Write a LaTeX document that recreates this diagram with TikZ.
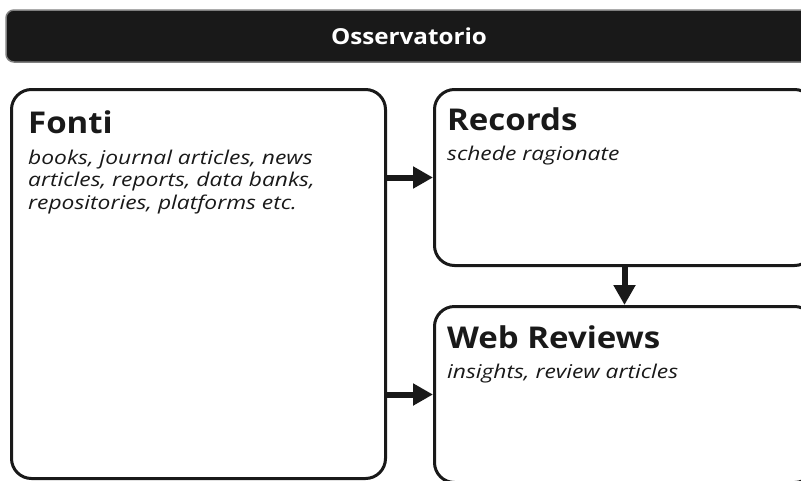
\documentclass[tikz,border=0pt]{standalone}
\usepackage{fontspec}
\setmainfont{Open Sans}
\newfontfamily\titlefont[FakeStretch=1.1]{Open Sans}
\newfontfamily\subfont[FakeStretch=1.2]{Open Sans}
\usetikzlibrary{arrows.meta}
\begin{document}
\begin{tikzpicture}[x=1pt, y=-1pt,
    box/.style={draw=black!90, line width=3pt, rounded corners=20pt, anchor=north west, inner sep=0pt},
    title/.style={anchor=base west, inner sep=0pt, font=\titlefont\fontsize{30}{36}\selectfont\bfseries, text=black!90},
    sub/.style={anchor=base west, inner sep=0pt, align=left, font=\subfont\fontsize{19}{22.5}\selectfont\itshape, text=black!90},
    flow/.style={draw=black!90, line width=6pt, -{Triangle[length=20pt,width=21pt]}}]
  \useasboundingbox (0,0) rectangle (801,480);
  \node [fill=black!90, draw=gray, line width=1.5pt, rounded corners=8pt, minimum width=806pt, minimum height=52pt, text=white, font=\titlefont\fontsize{22}{26}\selectfont\bfseries] (banner) at (409,36) {Osservatorio};
  \node [box, minimum width=374pt, minimum height=389pt] (fonti) at (10,88) {};
  \node [box, minimum width=380pt, minimum height=176pt] (records) at (433,88) {};
  \node [box, minimum width=380pt, minimum height=176pt] (web) at (433,305) {};
  \node [title] (fontit) at (28,133) {Fonti};
  \node [sub] (fontis) at (28,209) {books, journal articles, news\\articles, reports, data banks,\\repositories, platforms etc.};
  \node [title] (recordst) at (447,130) {Records};
  \node [sub] (recordss) at (447,160) {schede ragionate};
  \node [title] (webt) at (447,348) {Web Reviews};
  \node [sub] (webs) at (447,378) {insights, review articles};
  \draw [flow] (fonti.east |- records.west) -- (records.west);
  \draw [flow] (fonti.east |- web.west) -- (web.west);
  \draw [flow] (records.south) -- (web.north);
\end{tikzpicture}
\end{document}
